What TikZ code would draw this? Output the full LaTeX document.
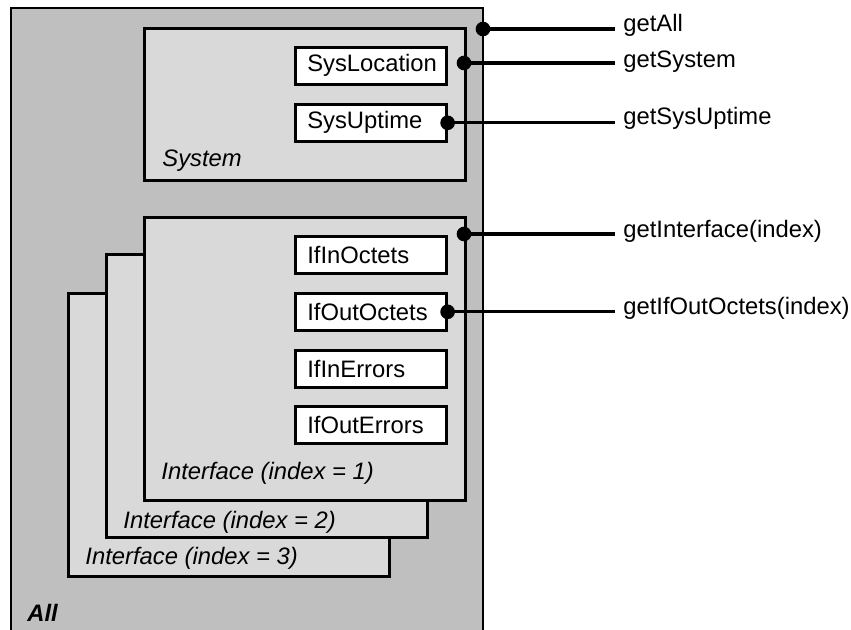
\documentclass[tikz,border=0pt]{standalone}
\usepackage{fontspec}
\setmainfont{Liberation Sans}
\usetikzlibrary{positioning}
\definecolor{allgray}{RGB}{191,191,191}
\definecolor{boxgray}{RGB}{217,217,217}

\begin{document}
\begin{tikzpicture}[x=0.5pt,y=-0.5pt,font=\fontsize{11.9}{14}\selectfont]
	\tikzset{
		groupbox/.style={draw,fill=boxgray,line width=1.3pt,anchor=north west,inner sep=0pt,minimum width=160.5pt},
		fieldbox/.style={draw,fill=white,line width=1.3pt,anchor=north west,inner xsep=6pt,inner ysep=0pt,text width=63.5pt,align=left,minimum height=18.5pt},
		caption/.style={anchor=base west,inner sep=0pt,font=\fontsize{11.9}{14}\selectfont\itshape},
		method/.style={anchor=base west,inner xsep=4pt,inner ysep=0pt},
		wire/.style={line width=1.7pt},
		joint/.style={circle,draw,fill,line width=0.8pt,inner sep=0pt,minimum size=6.5pt},
	}
	\useasboundingbox (0,0) rectangle (851,630);
	% outer box, runs off the bottom edge
	\fill[allgray] (11,8) rectangle (483,630);
	\draw[line width=1.3pt] (11,630) |- (483,8) -- (483,630);
	\node[caption,font=\fontsize{11.9}{14}\selectfont\bfseries\itshape] (alllbl) at (27,621) {All};

	\node[groupbox,minimum height=76pt] (system) at (143,27) {};
	\node[caption] (syslbl) at (162,167) {System};
	\node[fieldbox] (sysloc) at (294,46) {SysLocation};
	\node[fieldbox] (sysup) at (294,103) {SysUptime};

	% stacked interfaces, back to front
	\foreach \i/\x/\y/\b in {3/67/292/564,2/105/253/528,1/143/216/480}{
		\node[groupbox,minimum height=141.5pt] (iface\i) at (\x,\y) {};
		\node[caption] (iflbl\i) at (\x+18,\b) {Interface (index = \i)};
	}
	\foreach \n/\t/\y in {inoct/IfInOctets/235,outoct/IfOutOctets/292,inerr/IfInErrors/349,outerr/IfOutErrors/405}
		\node[fieldbox] (\n) at (294,\y) {\t};

	\coordinate (allpin) at (483,29);
	\coordinate (syspin) at (464,63);
	\coordinate (ifpin) at (464,234);

	\node[method] (mall) at (615,32) {getAll};
	\node[method] (msys) at (615,68) {getSystem};
	\node[method] (mup) at (615,125) {getSysUptime};
	\node[method] (mif) at (615,238) {getInterface(index)};
	\node[method] (mout) at (615,315) {getIfOutOctets(index)};

	\draw[wire] (allpin) -- (mall.west |- allpin);
	\draw[wire] (syspin) -- (msys.west |- syspin);
	\draw[wire] (sysup.east) -- (mup.west |- sysup.east);
	\draw[wire] (ifpin) -- (mif.west |- ifpin);
	\draw[wire] (outoct.east) -- (mout.west |- outoct.east);

	\node[joint] (alldot) at (allpin) {};
	\node[joint] (sysdot) at (syspin) {};
	\node[joint] (updot) at (sysup.east) {};
	\node[joint] (ifdot) at (ifpin) {};
	\node[joint] (outdot) at (outoct.east) {};
\end{tikzpicture}
\end{document}
